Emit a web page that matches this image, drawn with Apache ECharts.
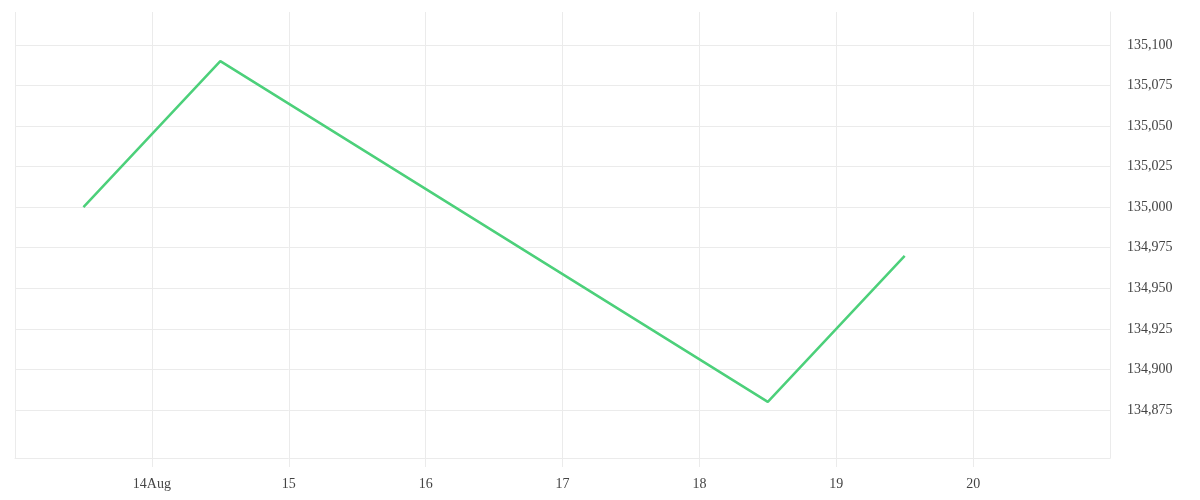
<!DOCTYPE html>
<html>
<head>
<meta charset="utf-8">
<script src="https://cdn.jsdelivr.net/npm/echarts@6/dist/echarts.min.js"></script>
<style>
  html, body { margin: 0; padding: 0; background: #fff; }
  #chart { width: 1200px; height: 500px; }
</style>
</head>
<body>
<div id="chart"></div>
<script>
// values (noon of each day)
var dates = ['2024-08-13T12:00:00Z', '2024-08-14T12:00:00Z', '2024-08-18T12:00:00Z', '2024-08-19T12:00:00Z'];
var prices = [135000, 135090, 134880, 134970];
var yTicks = [134875, 134900, 134925, 134950, 134975, 135000, 135025, 135050, 135075, 135100];
var xMin = '2024-08-13T00:00:00Z';
var xMax = '2024-08-21T00:00:00Z';

var DAY = 86400000;
var gridColor = '#ebebeb';
var textStyle = { fontFamily: 'Liberation Serif', fontSize: 14, color: '#444' };

function toPoints(ds, vs) {
    var out = [];
    for (var i = 0; i < ds.length; i++) {
        out.push([Date.parse(ds[i]), vs[i]]);
    }
    return out;
}

var option = {
    animation: false,
    grid: { left: 15, right: 90, top: 12, bottom: 42 },
    xAxis: {
        type: 'value',
        min: Date.parse(xMin),
        max: Date.parse(xMax),
        interval: DAY,
        axisLine: { show: true, onZero: false, lineStyle: { color: gridColor, width: 1 } },
        axisTick: { show: true, inside: false, length: 9, lineStyle: { color: gridColor, width: 1 } },
        splitLine: { show: true, lineStyle: { color: gridColor } },
        axisLabel: Object.assign({
            margin: 19,
            showMinLabel: false,
            showMaxLabel: false,
            formatter: function (v) {
                var d = new Date(v).getUTCDate();
                return d === 14 ? '14Aug' : String(d);
            }
        }, textStyle)
    },
    yAxis: {
        type: 'value',
        position: 'right',
        min: 134845.4,
        max: 135120.3,
        axisLine: { show: true, lineStyle: { color: gridColor, width: 1 } },
        axisTick: { show: false, customValues: yTicks },
        splitLine: { show: true, lineStyle: { color: gridColor } },
        axisLabel: Object.assign({
            margin: 17,
            customValues: yTicks,
            formatter: function (v) { return v.toLocaleString('en-US'); }
        }, textStyle)
    },
    series: [
        {
            type: 'line',
            data: toPoints(dates, prices),
            showSymbol: false,
            lineStyle: { color: '#4cd07a', width: 2.5 },
            itemStyle: { color: '#4cd07a' }
        }
    ]
};

var myChart = echarts.init(document.getElementById('chart'));
myChart.setOption(option);
</script>
</body>
</html>
